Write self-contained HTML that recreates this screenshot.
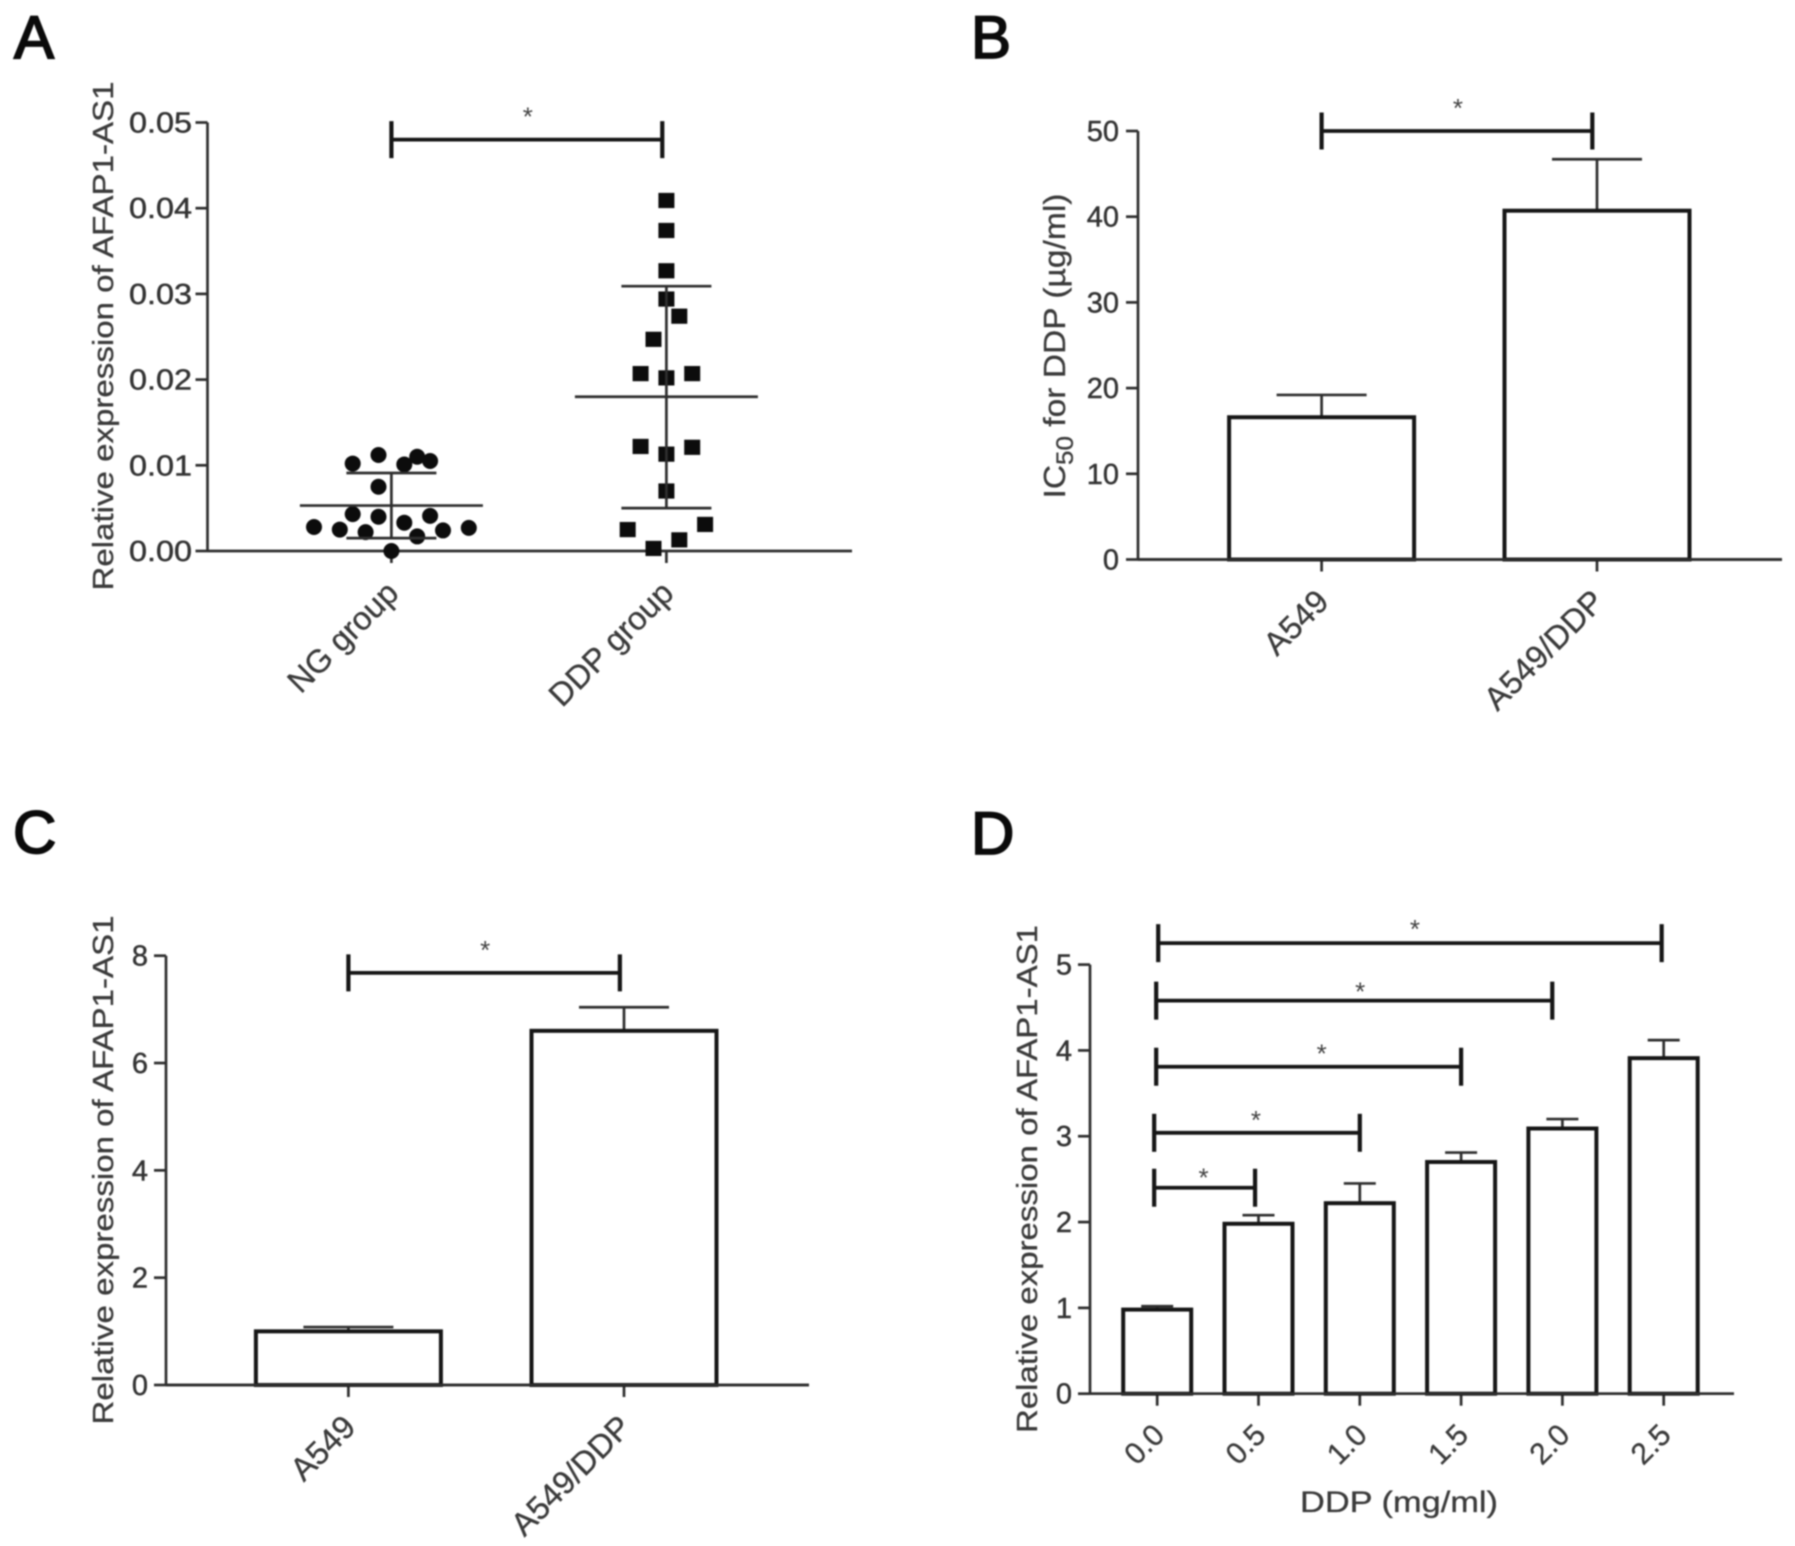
<!DOCTYPE html>
<html lang="en">
<head>
<meta charset="utf-8">
<title>AFAP1-AS1 expression and DDP resistance figure</title>
<style>
  html, body { margin: 0; padding: 0; background: #fff; }
  body { width: 1795px; height: 1546px; overflow: hidden; }
  svg { display: block; filter: blur(0.7px); }
  text { font-family: "Liberation Sans", Arial, sans-serif; fill: #333; }
  .panel-letter { font-size: 60px; fill: #0a0a0a; stroke: #0a0a0a; stroke-width: 1.8px; }
  .tick { font-size: 29px; stroke: #333; stroke-width: 0.45px; }
  .title { font-size: 28.5px; fill: #3a3a3a; stroke: #3a3a3a; stroke-width: 0.3px; }
  .cat { font-size: 32.5px; fill: #3a3a3a; stroke: #3a3a3a; stroke-width: 0.3px; }
  .cat-small { font-size: 30px; }
  .star { font-size: 26px; fill: #444; }
</style>
</head>
<body>
<svg id="figure" xmlns="http://www.w3.org/2000/svg" width="1795" height="1546" viewBox="0 0 1795 1546">
  <rect width="1795" height="1546" fill="#fff"/>
  <text class="panel-letter" x="14" y="58">A</text>
  <text class="panel-letter" x="971" y="58">B</text>
  <text class="panel-letter" x="13" y="853">C</text>
  <text class="panel-letter" x="971" y="854">D</text>
  <g id="panel-a"></g>
  <g id="panel-b"></g>
  <g id="panel-c"></g>
  <g id="panel-d"></g>
</svg>
<script>
// ---- Panel A data ----
const aCategories = ['NG group', 'DDP group'];
const aTickValues = [0, 0.01, 0.02, 0.03, 0.04, 0.05];
const aTickLabels = ['0.00', '0.01', '0.02', '0.03', '0.04', '0.05'];
const ngValues = [0.0028, 0.0025, 0.0022, 0, 0.0017, 0.0024, 0.0027, 0.0043, 0.004, 0.0033, 0.0041, 0.0075, 0.0102, 0.0112, 0.0101, 0.011, 0.0105];
const ngSwarmSlots = [-3, -2, -1, 0, 1, 2, 3, -1.5, -0.5, 0.5, 1.5, -0.5, -1.5, -0.5, 0.5, 1, 1.5];
const ngSummary = [0.0053, 0.0015, 0.0091];
const ddpValues = [0.0409, 0.0374, 0.0327, 0.0294, 0.0274, 0.0247, 0.0207, 0.0202, 0.0207, 0.0122, 0.0113, 0.0121, 0.007, 0.0025, 0.0031, 0.0013, 0.0003];
const ddpSwarmSlots = [0, 0, 0, 0, 0.5, -0.5, -1, 0, 1, -1, 0, 1, 0, -1.5, 1.5, 0.5, -0.5];
const ddpSummary = [0.018, 0.005, 0.0309];
const aBracket = [0, 0.985, 0.048];

// ---- Panel B data ----
const bCategories = ['A549', 'A549/DDP'];
const bTickValues = [0, 10, 20, 30, 40, 50];
const bTickLabels = ['0', '10', '20', '30', '40', '50'];
const bMeans = [16.6, 40.7];
const bErrorTops = [19.2, 46.7];
const bBracket = [0, 0.983, 50];

// ---- Panel C data ----
const cCategories = ['A549', 'A549/DDP'];
const cTickValues = [0, 2, 4, 6, 8];
const cTickLabels = ['0', '2', '4', '6', '8'];
const cMeans = [1.0, 6.6];
const cErrorTops = [1.08, 7.04];
const cBracket = [0, 0.985, 7.68];

// ---- Panel D data ----
const dCategories = ['0.0', '0.5', '1.0', '1.5', '2.0', '2.5'];
const dTickValues = [0, 1, 2, 3, 4, 5];
const dTickLabels = ['0', '1', '2', '3', '4', '5'];
const dMeans = [0.98, 1.98, 2.22, 2.7, 3.09, 3.91];
const dErrorTops = [1.02, 2.08, 2.45, 2.81, 3.2, 4.12];
const dBracketFrom = [-0.03, -0.03, -0.01, -0.01, 0.01];
const dBracketTo = [0.966, 2.0, 3.0, 3.9, 4.98];
const dBracketLevels = [2.4, 3.04, 3.81, 4.58, 5.25];

// ---- drawing helpers ----
const NS = 'http://www.w3.org/2000/svg';
const INK = '#2e2e2e';
const BAR = '#161616';

function mk(tag, parent, props) {
  const el = document.createElementNS(NS, tag);
  for (const k in props) el.setAttribute(k, props[k]);
  parent.appendChild(el);
  return el;
}
function seg(parent, x1, y1, x2, y2, width, color) {
  return mk('line', parent, { x1: x1, y1: y1, x2: x2, y2: y2, stroke: color || INK, 'stroke-width': width });
}
function linearY(y0, yTop, max) {
  return function (v) { return y0 - (v / max) * (y0 - yTop); };
}
function categoryX(x0, step) {
  return function (i) { return x0 + i * step; };
}

function drawAxes(g, o) {
  const yAxis = seg(g, o.axisX, o.y(o.tickValues[o.tickValues.length - 1]), o.axisX, o.y(0), 2.7);
  
  
  const xAxis = seg(g, o.axisX, o.y(0), o.axisEnd, o.y(0), 2.7);
  
  

  o.tickValues.forEach(function (v, i) {
    const t = seg(g, o.axisX - 12, o.y(v), o.axisX, o.y(v), 2.7);
    
    
    const lab = mk('text', g, { class: 'tick', x: o.labelRight, y: o.y(v) + 10, 'text-anchor': 'end' });
    if (o.tickLabelWidth) {
      lab.setAttribute('textLength', o.tickLabelWidth);
      lab.setAttribute('lengthAdjust', 'spacingAndGlyphs');
    }
    lab.textContent = o.tickLabels[i];
    
    
  });

  o.categories.forEach(function (c, i) {
    const t = seg(g, o.x(i), o.y(0), o.x(i), o.y(0) + 12, 2.7);
    
    
    const px = o.x(i) + o.catDx, py = o.y(0) + o.catDy;
    const lab = mk('text', g, { class: o.catClass || 'cat', x: px, y: py, 'text-anchor': 'end', transform: 'rotate(-45 ' + px + ' ' + py + ')' });
    lab.textContent = c;
    
    
  });
}

function drawYTitle(g, baseX, centerY, len, text) {
  const el = mk('text', g, { class: 'title', x: baseX, y: centerY, 'text-anchor': 'middle', textLength: len, lengthAdjust: 'spacingAndGlyphs', transform: 'rotate(-90 ' + baseX + ' ' + centerY + ')' });
  el.textContent = text;
  
  
}

function drawBars(g, o, means, tops, barWidth, capHalf) {
  means.forEach(function (m, i) {
    const cx = o.x(i);
    const stem = seg(g, cx, o.y(m), cx, o.y(tops[i]), 2.7, INK);
    
    
    const cap = seg(g, cx - capHalf, o.y(tops[i]), cx + capHalf, o.y(tops[i]), 2.7, INK);
    
    
    const r = mk('rect', g, { x: cx - barWidth / 2, y: o.y(m), width: barWidth, height: o.y(0) - o.y(m), fill: '#fff', stroke: BAR, 'stroke-width': 4 });
    
    
  });
  const redraw = seg(g, o.axisX, o.y(0), o.axisEnd, o.y(0), 2.7);
  
  
}

function drawBracket(g, o, from, to, level, capHalf, starGap, starDx) {
  const x1 = o.x(from), x2 = o.x(to), y = o.y(level);
  const h = seg(g, x1, y, x2, y, 3.8, BAR);
  
  
  const l = seg(g, x1, y - capHalf, x1, y + capHalf, 4.2, BAR);
  
  
  const r = seg(g, x2, y - capHalf, x2, y + capHalf, 4.2, BAR);
  
  
  const s = mk('text', g, { class: 'star', x: (x1 + x2) / 2 + (starDx || 0), y: y - starGap + 15, 'text-anchor': 'middle' });
  s.textContent = '*';
  
  
}

// ---- Panel A ----
(function () {
  const g = document.getElementById('panel-a');
  const o = {
    x: categoryX(391.4, 275), y: linearY(551, 122.5, 0.05), axisX: 207.5, axisEnd: 852,
    tickValues: aTickValues, tickLabels: aTickLabels, labelRight: 192, tickLabelWidth: 63,
    categories: aCategories, catDx: 9, catDy: 44
  };
  drawYTitle(g, 113, 336, 509, 'Relative expression of AFAP1-AS1');
  drawAxes(g, o);
  drawBracket(g, o, aBracket[0], aBracket[1], aBracket[2], 18.5, 29, 1);

  const slot = 25.8;
  ngValues.forEach(function (v, i) {
    const c = mk('circle', g, { cx: o.x(0) + ngSwarmSlots[i] * slot, cy: o.y(v), r: 8, fill: '#0c0c0c' });
    
    
  });
  ddpValues.forEach(function (v, i) {
    const s = mk('rect', g, { x: o.x(1) + ddpSwarmSlots[i] * slot - 8, y: o.y(v) - 7.6, width: 16, height: 15.2, fill: '#0c0c0c' });
    
    
  });

  [ngSummary, ddpSummary].forEach(function (sum, i) {
    const cx = o.x(i);
    const stem = seg(g, cx, o.y(sum[1]), cx, o.y(sum[2]), 2.7);
    
    
    const mean = seg(g, cx - 91.5, o.y(sum[0]), cx + 91.5, o.y(sum[0]), 2.7);
    
    
    const lo = seg(g, cx - 45, o.y(sum[1]), cx + 45, o.y(sum[1]), 2.7);
    
    
    const hi = seg(g, cx - 45, o.y(sum[2]), cx + 45, o.y(sum[2]), 2.7);
    
    
  });
})();

// ---- Panel B ----
(function () {
  const g = document.getElementById('panel-b');
  const o = {
    x: categoryX(1321.6, 275.4), y: linearY(559.5, 131, 50), axisX: 1138, axisEnd: 1782,
    tickValues: bTickValues, tickLabels: bTickLabels, labelRight: 1119,
    categories: bCategories, catDx: 9, catDy: 44
  };
  const title = mk('text', g, { class: 'title', x: 1065, y: 346, 'text-anchor': 'middle', textLength: 305, lengthAdjust: 'spacingAndGlyphs', transform: 'rotate(-90 1065 346)', style: 'font-size:31px' });
  
  
  const p1 = mk('tspan', title, {});
  p1.textContent = 'IC';
  const p2 = mk('tspan', title, { dy: 8, 'font-size': '24' });
  p2.textContent = '50';
  const p3 = mk('tspan', title, { dy: -8 });
  p3.textContent = ' for DDP (\u00b5g/ml)';
  drawAxes(g, o);
  drawBars(g, o, bMeans, bErrorTops, 185, 45);
  drawBracket(g, o, bBracket[0], bBracket[1], bBracket[2], 18.5, 29, 1);
})();

// ---- Panel C ----
(function () {
  const g = document.getElementById('panel-c');
  const o = {
    x: categoryX(348.4, 275.6), y: linearY(1385, 955.7, 8), axisX: 166, axisEnd: 809,
    tickValues: cTickValues, tickLabels: cTickLabels, labelRight: 148,
    categories: cCategories, catDx: 9, catDy: 44
  };
  drawYTitle(g, 113, 1170, 509, 'Relative expression of AFAP1-AS1');
  drawAxes(g, o);
  drawBars(g, o, cMeans, cErrorTops, 185, 45);
  drawBracket(g, o, cBracket[0], cBracket[1], cBracket[2], 18.5, 29, 1);
})();

// ---- Panel D ----
(function () {
  const g = document.getElementById('panel-d');
  const o = {
    x: categoryX(1157.2, 101.3), y: linearY(1393.7, 964.6, 5), axisX: 1090, axisEnd: 1734,
    tickValues: dTickValues, tickLabels: dTickLabels, labelRight: 1072,
    categories: dCategories, catDx: 9, catDy: 43, catClass: 'cat cat-small'
  };
  drawYTitle(g, 1037, 1179, 508, 'Relative expression of AFAP1-AS1');
  drawAxes(g, o);
  drawBars(g, o, dMeans, dErrorTops, 68, 16);
  const gaps = [16, 19, 19, 15, 20];
  const starShift = [-1, -1, 13, 6, 5];
  dBracketLevels.forEach(function (lv, i) {
    drawBracket(g, o, dBracketFrom[i], dBracketTo[i], lv, 19, gaps[i], starShift[i]);
  });
  const xt = mk('text', g, { class: 'title', x: 1399, y: 1512, 'text-anchor': 'middle', textLength: 198, lengthAdjust: 'spacingAndGlyphs', style: 'font-size:30px' });
  xt.textContent = 'DDP (mg/ml)';
  
  
})();
</script>
</body>
</html>
